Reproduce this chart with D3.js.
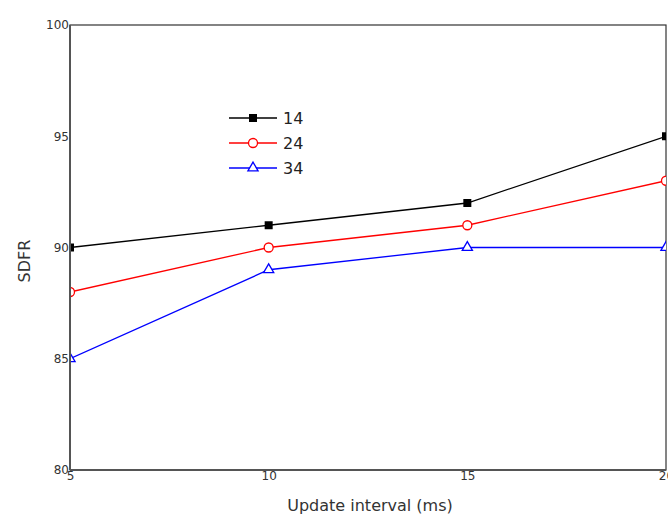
<!DOCTYPE html>
<html>
<head>
<meta charset="utf-8">
<script src="https://cdn.jsdelivr.net/npm/d3@7"></script>
<style>
  body { margin: 0; background: #fff; }
  text { font-family: "DejaVu Sans", sans-serif; }
</style>
</head>
<body>
<svg id="chart" width="668" height="516"></svg>
<script>
// data
var intervals = [5, 10, 15, 20];
var seriesNames = ["14", "24", "34"];
var s14 = [90, 91, 92, 95];
var s24 = [88, 90, 91, 93];
var s34 = [85, 89, 90, 90];
var yTicks = [80, 85, 90, 95, 100];

var series = [
  {name: seriesNames[0], values: s14, color: "#000", marker: "square"},
  {name: seriesNames[1], values: s24, color: "#ff0000", marker: "circle"},
  {name: seriesNames[2], values: s34, color: "#0000ff", marker: "triangle"}
];

var margin = {top: 25, right: 2, bottom: 46, left: 70};
var width = 668, height = 516;
var w = width - margin.left - margin.right;
var h = height - margin.top - margin.bottom;

var svg = d3.select("#chart");
var g = svg.append("g")
    .attr("transform", "translate(" + margin.left + "," + margin.top + ")");

var x = d3.scaleLinear().domain([5, 20]).range([0, w]);
var y = d3.scaleLinear().domain([80, 100]).range([h, 0]);

svg.append("defs").append("clipPath").attr("id", "clip")
  .append("rect").attr("width", w).attr("height", h);

// frame
g.append("rect")
    .attr("width", w).attr("height", h)
    .attr("fill", "none").attr("stroke", "#333").attr("stroke-width", 1.2);

var plot = g.append("g").attr("clip-path", "url(#clip)");

var line = d3.line()
    .x(function(d, i) { return x(intervals[i]); })
    .y(function(d) { return y(d); });

function drawMarker(sel, type, color) {
  if (type == "square") {
    sel.append("rect").attr("x", -4).attr("y", -4).attr("width", 8).attr("height", 8)
      .attr("fill", color);
  } else if (type == "circle") {
    sel.append("circle").attr("r", 4.5).attr("fill", "#fff")
      .attr("stroke", color).attr("stroke-width", 1.3);
  } else {
    sel.append("path").attr("d", d3.symbol().type(d3.symbolTriangle).size(45)())
      .attr("fill", "#fff").attr("stroke", color).attr("stroke-width", 1.3);
  }
}

series.forEach(function(s) {
  plot.append("path")
      .datum(s.values)
      .attr("d", line)
      .attr("fill", "none")
      .attr("stroke", s.color)
      .attr("stroke-width", 1.3);

  plot.selectAll(null).data(s.values).enter().append("g")
      .attr("transform", function(d, i) { return "translate(" + x(intervals[i]) + "," + y(d) + ")"; })
      .each(function() { drawMarker(d3.select(this), s.marker, s.color); });
});

// left / bottom axes, heavier gray
g.append("line").attr("x1", 0).attr("x2", 0).attr("y1", 0).attr("y2", h)
    .attr("stroke", "#555").attr("stroke-width", 2);
g.append("line").attr("x1", 0).attr("x2", w).attr("y1", h).attr("y2", h)
    .attr("stroke", "#555").attr("stroke-width", 2);

var xAxis = g.append("g")
    .attr("transform", "translate(0," + h + ")")
    .call(d3.axisBottom(x).tickValues(intervals).tickSize(0).tickPadding(1));
var yAxis = g.append("g")
    .call(d3.axisLeft(y).tickValues(yTicks).tickSize(0).tickPadding(1));
[xAxis, yAxis].forEach(function(a) {
  a.select(".domain").remove();
  a.selectAll("text").attr("font-family", "DejaVu Sans").attr("font-size", 12)
    .attr("fill", "#333");
});

// axis titles
svg.append("text")
    .attr("x", margin.left + w / 2 + 2).attr("y", 511)
    .attr("text-anchor", "middle").attr("font-size", 16).attr("fill", "#333")
    .text("Update interval (ms)");
svg.append("text")
    .attr("transform", "translate(30,261) rotate(-90)")
    .attr("text-anchor", "middle").attr("font-size", 16).attr("fill", "#333")
    .text("SDFR");

// legend
var legend = svg.append("g").attr("transform", "translate(229,118)");
series.forEach(function(s, i) {
  var row = legend.append("g").attr("transform", "translate(0," + (i * 25) + ")");
  row.append("line").attr("x1", 0).attr("x2", 48).attr("stroke", s.color).attr("stroke-width", 1.3);
  var m = row.append("g").attr("transform", "translate(24,0)");
  drawMarker(m, s.marker, s.color);
  row.append("text").attr("x", 54).attr("dy", "0.36em")
    .attr("font-size", 16).attr("fill", "#222").text(s.name);
});
</script>
</body>
</html>
